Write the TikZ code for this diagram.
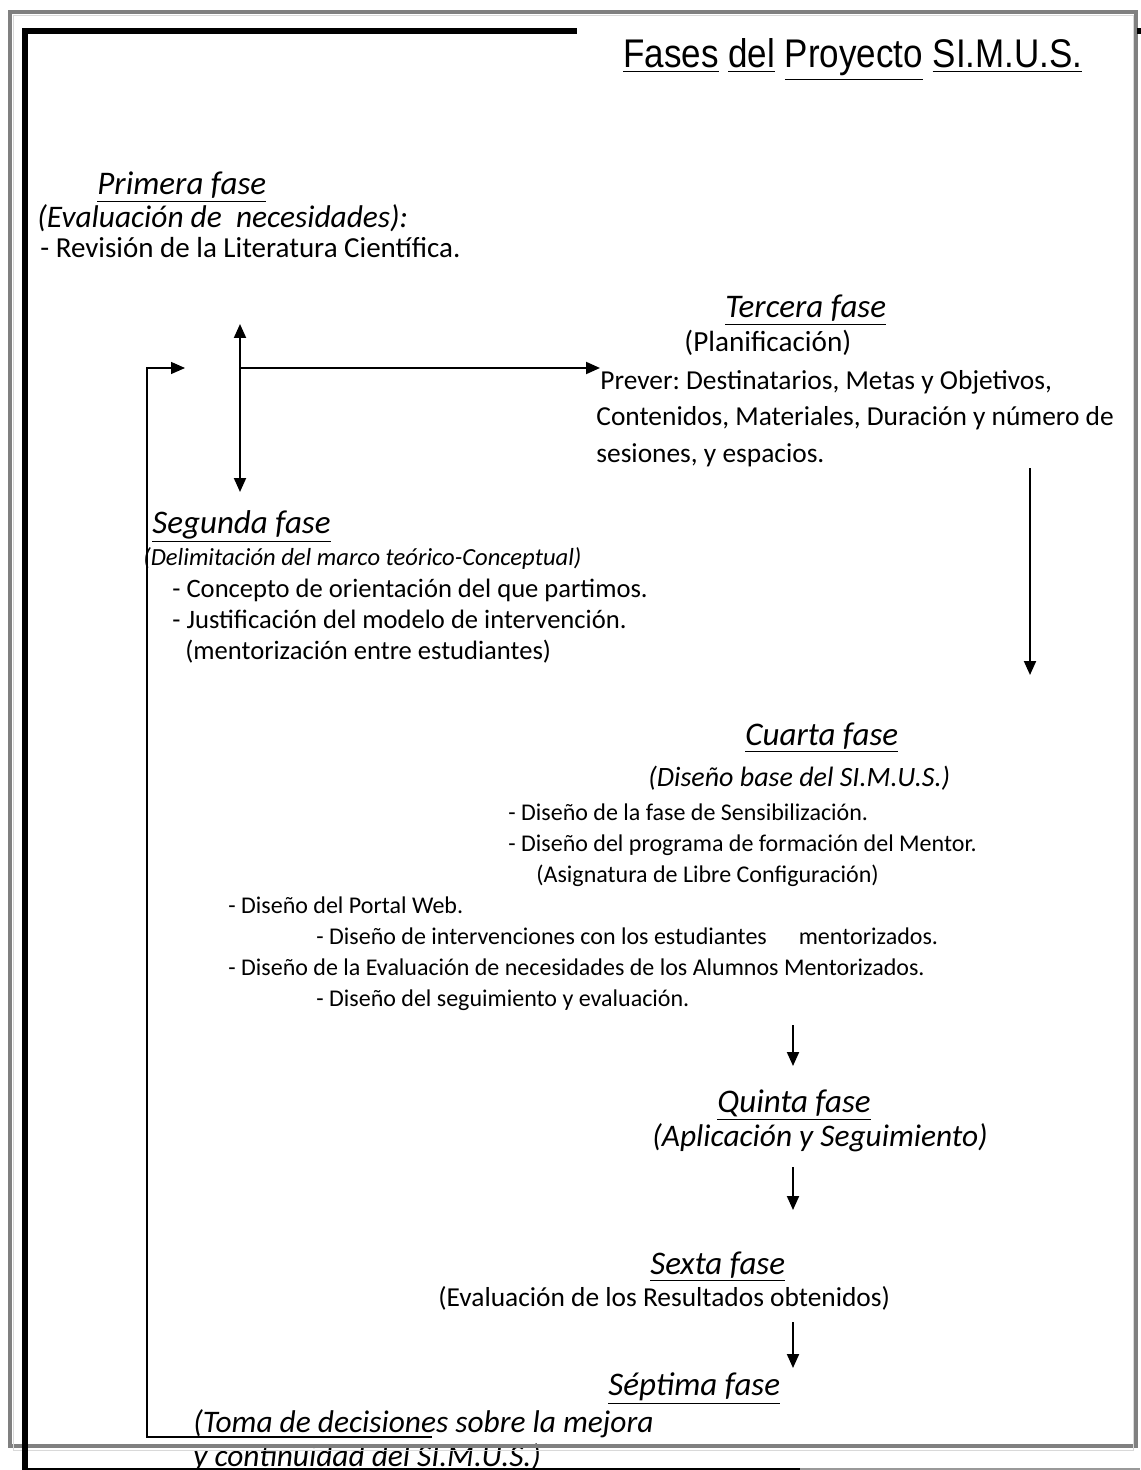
\documentclass[tikz,border=0pt]{standalone}
\usepackage{fontspec}
\setmainfont{Carlito}
\newfontfamily\titlefont{Liberation Sans}[FakeStretch=0.875]
\usetikzlibrary{arrows.meta}
\frenchspacing

\begin{document}
\begin{tikzpicture}[x=0.5pt,y=-0.5pt]
  % Define styles for nodes
  \tikzstyle{fase} = [anchor=base west, inner sep=0pt,
  font=\fontsize{16.5}{20}\selectfont\itshape]
  \tikzstyle{sub} = [anchor=base west, inner sep=0pt,
  font=\fontsize{12.3}{15}\selectfont\itshape]
  \tikzstyle{bigsub} = [anchor=base west, inner sep=0pt,
  font=\fontsize{15.7}{19}\selectfont\itshape]
  \tikzstyle{txt} = [anchor=base west, inner sep=0pt,
  font=\fontsize{12}{15}\selectfont]
  \tikzstyle{bigtxt} = [anchor=base west, inner sep=0pt,
  font=\fontsize{13.7}{16}\selectfont]
  \tikzstyle{flow} = [line width=1pt, -{Triangle[length=7pt,width=6pt]}]

  \useasboundingbox (0,0) rectangle (1140,1470);

  % Title
  \node[anchor=base west, inner sep=0pt, font=\titlefont\fontsize{20}{24}\selectfont]
    (title) at (623,68) {\underline{Fases} \underline{del} \underline{Proyecto} \underline{SI.M.U.S.}};

  % Primera fase
  \node[fase] (fase1) at (97,195) {\underline{Primera fase}};
  \node[bigsub] (eval1) at (37,228) {(Evaluación de\ \ necesidades):};
  \node[bigtxt, font=\fontsize{14.5}{17}\selectfont] (rev1) at (40,258) {- Revisión de la Literatura Científica.};

  % Tercera fase
  \node[fase] (fase3) at (725,318) {\underline{Tercera fase}};
  \node[bigtxt, font=\fontsize{14.6}{17}\selectfont] (plan3) at (684,352) {(Planificación)};
  \node[bigtxt] (prev3) at (600,390) {Prever: Destinatarios, Metas y Objetivos,};
  \node[bigtxt] (cont3) at (596,426) {Contenidos, Materiales, Duración y número de};
  \node[bigtxt] (ses3) at (596,462) {sesiones, y espacios.};

  % Segunda fase
  \node[fase] (fase2) at (152,533) {\underline{Segunda fase}};
  \node[sub] (delim2) at (143,565) {(Delimitación del marco teórico-Conceptual)};
  \node[bigtxt, font=\fontsize{13.3}{16}\selectfont] (conc2) at (172,597) {- Concepto de orientación del que partimos.};
  \node[bigtxt, font=\fontsize{13.3}{16}\selectfont] (just2) at (172,628) {- Justificación del modelo de intervención.};
  \node[bigtxt, font=\fontsize{13.3}{16}\selectfont] (ment2) at (185,659) {(mentorización entre estudiantes)};

  % Cuarta fase
  \node[fase] (fase4) at (745,745) {\underline{Cuarta fase}};
  \node[bigsub, font=\fontsize{14}{17}\selectfont\itshape] (dis4) at (648,786) {(Diseño base del SI.M.U.S.)};
  \node[txt] (sens4) at (508,820) {- Diseño de la fase de Sensibilización.};
  \node[txt] (prog4) at (508,851) {- Diseño del programa de formación del Mentor.};
  \node[txt] (asig4) at (536,882) {(Asignatura de Libre Configuración)};
  \node[txt] (port4) at (228,913) {- Diseño del Portal Web.};
  \node[txt] (int4) at (316,944) {- Diseño de intervenciones con los estudiantes\hspace{16pt}mentorizados.};
  \node[txt] (nec4) at (228,975) {- Diseño de la Evaluación de necesidades de los Alumnos Mentorizados.};
  \node[txt] (seg4) at (316,1006) {- Diseño del seguimiento y evaluación.};

  % Quinta, sexta y septima fase
  \node[fase] (fase5) at (717,1112) {\underline{Quinta fase}};
  \node[bigsub] (apl5) at (652,1146) {(Aplicación y Seguimiento)};
  \node[fase] (fase6) at (650,1274) {\underline{Sexta fase}};
  \node[bigtxt] (res6) at (438,1306) {(Evaluación de los Resultados obtenidos)};
  \node[fase] (fase7) at (608,1395) {\underline{Séptima fase}};
  \node[bigsub] (toma7) at (193,1432) {(Toma de decisiones sobre la mejora};
  \node[bigsub] (cont7) at (193,1466) {y continuidad del SI.M.U.S.)};

  % Named end points of the connectors
  \coordinate (hub) at (240,368);
  \coordinate (up) at (240,324);
  \coordinate (down) at (240,492);
  \coordinate (toprev) at (600,368);
  \coordinate (a3) at (1030,468);
  \coordinate (b3) at (1030,675);
  \coordinate (a4) at (793,1025);
  \coordinate (b4) at (793,1066);
  \coordinate (a5) at (793,1167);
  \coordinate (b5) at (793,1210);
  \coordinate (a6) at (793,1322);
  \coordinate (b6) at (793,1368);
  \coordinate (tomaend) at (432,1437);
  \coordinate (fbcorner) at (147,1437);
  \coordinate (fbtop) at (147,368);
  \coordinate (fbtip) at (185,368);

  % Connections
  \draw[flow, {Triangle[length=7pt,width=6pt]}-{Triangle[length=7pt,width=6pt]}] (up) -- (down);
  \draw[flow] (hub) -- (toprev);
  \draw[flow] (a3) -- (b3);
  \draw[flow] (a4) -- (b4);
  \draw[flow] (a5) -- (b5);
  \draw[flow] (a6) -- (b6);
  \draw[line width=0.7pt, -{Triangle[length=7pt,width=6pt]}] (tomaend) -- (fbcorner) -- (fbtop) -- (fbtip);

  % Frames
  \draw[line width=2pt, black!50] (10,12) rectangle (1136,1446);
  \draw[line width=0.5pt, black!15] (13,16) rectangle (1133,1450);
  \draw[line width=3pt] (25,1472) -- (25,31) -- (577,31);
  \draw[line width=3pt] (1137,31) -- (1142,31);
  \draw[line width=1pt] (25,1469) -- (800,1469);
  \draw[line width=1pt, black!40] (800,1469) -- (1140,1469);
\end{tikzpicture}
\end{document}
